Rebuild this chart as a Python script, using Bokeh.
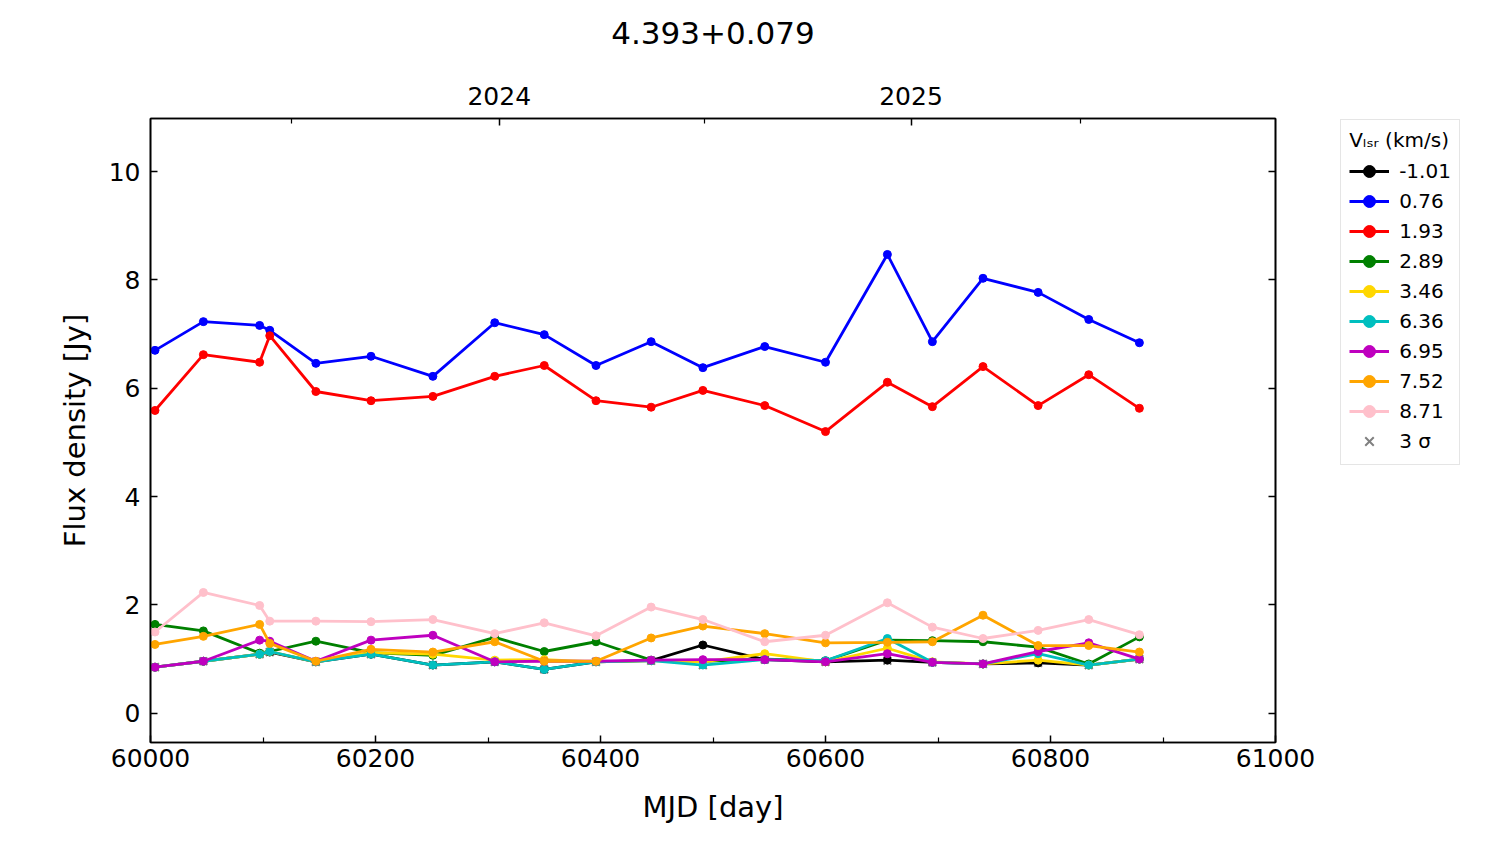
from bokeh.plotting import figure
from bokeh.models import LinearAxis, FixedTicker, Range1d, Legend, LegendItem
from bokeh.embed import file_html
from bokeh.resources import INLINE

# ---- data ----
mjd = [60004, 60047, 60097, 60106, 60147, 60196, 60251, 60306, 60350, 60396,
       60445, 60491, 60546, 60600, 60655, 60695, 60740, 60789, 60834, 60879]

sigma3 = [0.85, 0.96, 1.09, 1.13, 0.95, 1.09, 0.89, 0.95, 0.81, 0.95,
          0.97, 0.89, 0.99, 0.95, 0.97, 0.94, 0.91, 0.93, 0.89, 1.00]

v_m101 = [0.85, 0.96, 1.09, 1.13, 0.95, 1.09, 0.89, 0.95, 0.81, 0.95,
          0.97, 1.26, 0.99, 0.95, 0.98, 0.94, 0.91, 0.93, 0.89, 1.00]
v_076 = [6.70, 7.23, 7.16, 7.07, 6.46, 6.59, 6.22, 7.21, 6.99, 6.42,
         6.86, 6.38, 6.77, 6.48, 8.47, 6.86, 8.03, 7.77, 7.27, 6.84]
v_193 = [5.59, 6.62, 6.48, 6.97, 5.94, 5.77, 5.85, 6.22, 6.42, 5.77,
         5.65, 5.96, 5.68, 5.20, 6.11, 5.66, 6.40, 5.68, 6.25, 5.63]
v_289 = [1.64, 1.52, 1.11, 1.14, 1.33, 1.12, 1.07, 1.40, 1.14, 1.32,
         0.98, 0.96, 1.00, 0.97, 1.35, 1.34, 1.32, 1.22, 0.91, 1.41]
v_346 = [0.85, 0.96, 1.09, 1.14, 0.95, 1.12, 1.09, 0.98, 0.99, 0.95,
         0.97, 0.95, 1.10, 0.95, 1.20, 0.95, 0.91, 0.98, 0.89, 1.00]
v_636 = [0.85, 0.96, 1.09, 1.14, 0.95, 1.09, 0.89, 0.95, 0.81, 0.95,
         0.97, 0.89, 0.99, 0.97, 1.38, 0.94, 0.91, 1.10, 0.89, 1.00]
v_695 = [0.85, 0.96, 1.35, 1.33, 0.96, 1.35, 1.44, 0.95, 0.96, 0.96,
         0.98, 0.99, 0.99, 0.95, 1.10, 0.94, 0.91, 1.14, 1.30, 1.00]
v_752 = [1.27, 1.42, 1.64, 1.29, 0.96, 1.18, 1.13, 1.32, 0.96, 0.96,
         1.39, 1.61, 1.47, 1.30, 1.31, 1.32, 1.81, 1.25, 1.25, 1.13]
v_871 = [1.50, 2.23, 1.99, 1.70, 1.70, 1.69, 1.73, 1.47, 1.67, 1.43,
         1.96, 1.73, 1.32, 1.44, 2.04, 1.59, 1.38, 1.53, 1.73, 1.45]

series_labels = ["-1.01", "0.76", "1.93", "2.89", "3.46", "6.36", "6.95", "7.52", "8.71"]
series_values = [v_m101, v_076, v_193, v_289, v_346, v_636, v_695, v_752, v_871]
series_colors = ["black", "blue", "red", "green", "gold", "#00bfbf", "#bf00bf", "orange", "pink"]

x_ticks = [60000, 60200, 60400, 60600, 60800, 61000]
x_minor = [60100, 60300, 60500, 60700, 60900]
y_ticks = [0, 2, 4, 6, 8, 10]
year_ticks = [60310, 60676]
year_labels = ["2024", "2025"]
year_minor = [60125, 60492, 60827]
title_text = "4.393+0.079"

FONT = "DejaVu Sans"

p = figure(frame_width=1125, frame_height=624, output_backend="svg", toolbar_location=None,
           x_range=Range1d(60000, 61000), y_range=Range1d(-0.54, 10.98),
           min_border_left=150, min_border_right=0, min_border_top=118,
           min_border_bottom=98)

p.grid.visible = False
p.outline_line_color = "black"
p.outline_line_width = 1.6

def style_axis(ax):
    ax.axis_line_width = 1.6
    ax.major_tick_line_width = 1.5
    ax.minor_tick_line_width = 1.2
    ax.major_tick_in = 7
    ax.major_tick_out = 0
    ax.minor_tick_in = 5
    ax.minor_tick_out = 0
    ax.major_label_text_font = FONT
    ax.major_label_text_font_size = "25px"
    ax.major_label_text_color = "black"
    ax.axis_label_text_font = FONT
    ax.axis_label_text_font_size = "29px"
    ax.axis_label_text_font_style = "normal"
    ax.axis_label_text_color = "black"

xa = p.xaxis[0]
xa.ticker = FixedTicker(ticks=x_ticks, minor_ticks=x_minor)
xa.axis_label = "MJD [day]"
xa.major_label_standoff = 6
xa.axis_label_standoff = 20
style_axis(xa)

ya = p.yaxis[0]
ya.ticker = FixedTicker(ticks=y_ticks, minor_ticks=[])
ya.axis_label = "Flux density [Jy]"
ya.major_label_standoff = 10
ya.axis_label_standoff = 14
style_axis(ya)

top = LinearAxis(ticker=FixedTicker(ticks=year_ticks, minor_ticks=year_minor),
                 major_label_overrides={t: l for t, l in zip(year_ticks, year_labels)})
style_axis(top)
top.major_label_standoff = 14
top.axis_label = title_text
top.axis_label_text_font_size = "31px"
top.axis_label_standoff = 40
p.add_layout(top, "above")

right = LinearAxis(ticker=FixedTicker(ticks=y_ticks, minor_ticks=[]),
                   major_label_overrides={t: "" for t in y_ticks})
style_axis(right)
right.major_label_standoff = 0
p.add_layout(right, "right")

# 3-sigma markers underneath
xr = p.scatter(mjd, sigma3, marker="x", size=11, line_color="gray", line_width=2)

items = []
for lab, vals, col in zip(series_labels, series_values, series_colors):
    lr = p.line(mjd, vals, line_color=col, line_width=2.8)
    sr = p.scatter(mjd, vals, marker="circle", size=8, fill_color=col, line_color=col)
    items.append(LegendItem(label=lab, renderers=[lr, sr]))
items.append(LegendItem(label="3 \u03c3", renderers=[xr]))

legend = Legend(items=items, location=(-165, 277),
                title="V\u2097\u209b\u1d63 (km/s)",
                title_text_font=FONT, title_text_font_size="20px",
                title_text_font_style="normal", title_standoff=4,
                title_text_color="black",
                label_text_font=FONT, label_text_font_size="20px",
                label_text_color="black",
                glyph_width=40, glyph_height=30, spacing=0, padding=8,
                label_standoff=10, border_line_color="#cccccc",
                border_line_width=1.5, background_fill_color="white",
                background_fill_alpha=1, margin=0)
p.add_layout(legend, "right")

open("out.html", "w").write(file_html(p, INLINE))
